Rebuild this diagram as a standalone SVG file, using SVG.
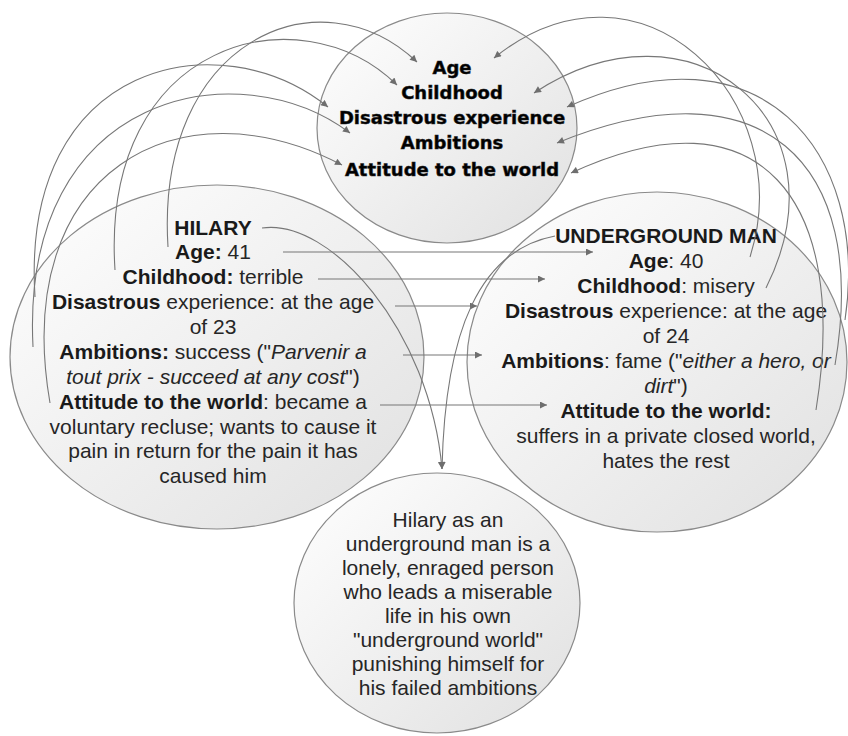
<svg xmlns="http://www.w3.org/2000/svg" width="848" height="736" viewBox="0 0 848 736">
<defs>
<linearGradient id="g" x1="0" y1="0" x2="1" y2="1">
<stop offset="0" stop-color="#ffffff"/>
<stop offset="1" stop-color="#e0e0e0"/>
</linearGradient>
<marker id="ah" viewBox="0 0 10 10" refX="10" refY="5" markerUnits="userSpaceOnUse" markerWidth="9" markerHeight="7" orient="auto">
<path d="M0,0 L10,5 L0,10 z" fill="#6e6e6e"/>
</marker>
<style>
.node ellipse{fill:url(#g);stroke:#8a8a8a;stroke-width:1.2}
.t{font-family:"Liberation Sans",Arial,sans-serif;font-size:21px;fill:#262626;text-anchor:middle}
.b{font-weight:bold;fill:#1a1a1a}
.i{font-style:italic}
.h{font-family:"DejaVu Sans",Verdana,sans-serif;font-size:18px;font-weight:bold;fill:#000;stroke:#222;stroke-width:0.5;text-anchor:middle}
.c path,.c line{fill:none;stroke:#777;stroke-width:1.1;marker-end:url(#ah)}
</style>
</defs>
<rect width="848" height="736" fill="#ffffff"/>

<g id="node-aspects" class="node">
<ellipse cx="447" cy="128" rx="130" ry="115"/>
<text class="h" x="452" y="74">Age</text>
<text class="h" x="452" y="99">Childhood</text>
<text class="h" x="452" y="124">Disastrous experience</text>
<text class="h" x="452" y="149">Ambitions</text>
<text class="h" x="452" y="176">Attitude to the world</text>
</g>

<g id="node-hilary" class="node">
<ellipse cx="217" cy="357" rx="207" ry="172"/>
<text class="t" x="213" y="235"><tspan class="b">HILARY</tspan></text>
<text class="t" x="213" y="259"><tspan class="b">Age:</tspan> 41</text>
<text class="t" x="213" y="284"><tspan class="b">Childhood:</tspan> terrible</text>
<text class="t" x="213" y="309"><tspan class="b">Disastrous</tspan> experience: at the age</text>
<text class="t" x="213" y="334">of 23</text>
<text class="t" x="213" y="359"><tspan class="b">Ambitions:</tspan> success ("<tspan class="i">Parvenir a</tspan></text>
<text class="t" x="213" y="384"><tspan class="i">tout prix - succeed at any cost</tspan>")</text>
<text class="t" x="213" y="409"><tspan class="b">Attitude to the world</tspan>: became a</text>
<text class="t" x="213" y="434">voluntary recluse; wants to cause it</text>
<text class="t" x="213" y="458">pain in return for the pain it has</text>
<text class="t" x="213" y="483">caused him</text>
</g>

<g id="node-underground" class="node">
<ellipse cx="657" cy="362" rx="190" ry="170"/>
<text class="t" x="666" y="243"><tspan class="b">UNDERGROUND MAN</tspan></text>
<text class="t" x="666" y="268"><tspan class="b">Age</tspan>: 40</text>
<text class="t" x="666" y="293"><tspan class="b">Childhood</tspan>: misery</text>
<text class="t" x="666" y="318"><tspan class="b">Disastrous</tspan> experience: at the age</text>
<text class="t" x="666" y="343">of 24</text>
<text class="t" x="666" y="368"><tspan class="b">Ambitions</tspan>: fame ("<tspan class="i">either a hero, or</tspan></text>
<text class="t" x="666" y="393"><tspan class="i">dirt</tspan>")</text>
<text class="t" x="666" y="418"><tspan class="b">Attitude to the world:</tspan></text>
<text class="t" x="666" y="443">suffers in a private closed world,</text>
<text class="t" x="666" y="468">hates the rest</text>
</g>

<g id="node-conclusion" class="node">
<ellipse cx="437" cy="603" rx="143" ry="130"/>
<text class="t" x="448" y="527">Hilary as an</text>
<text class="t" x="448" y="551">underground man is a</text>
<text class="t" x="448" y="575">lonely, enraged person</text>
<text class="t" x="448" y="599">who leads a miserable</text>
<text class="t" x="448" y="623">life in his own</text>
<text class="t" x="448" y="647">"underground world"</text>
<text class="t" x="448" y="671">punishing himself for</text>
<text class="t" x="448" y="695">his failed ambitions</text>
</g>

<g id="connectors" class="c">
<line x1="283" y1="252" x2="593" y2="252"/>
<line x1="318" y1="279" x2="545" y2="279"/>
<line x1="395" y1="306" x2="477" y2="306"/>
<line x1="403" y1="355" x2="482" y2="355"/>
<line x1="380" y1="405" x2="547" y2="405"/>
<path d="M262,228 C330,218 430,330 442,469"/>
<path d="M555,236 C480,250 445,330 442,469"/>
<path d="M168,247 C155,40 320,-30 417,62"/>
<path d="M115,270 C100,40 300,-10 397,85"/>
<path d="M35,297 C20,60 220,20 328,107"/>
<path d="M33,347 C20,90 240,50 350,133"/>
<path d="M50,403 C10,170 180,80 342,165"/>
<path d="M750,257 C800,100 640,-60 494,58"/>
<path d="M766,288 C850,120 690,-10 534,93"/>
<path d="M845,320 C870,150 760,20 567,107"/>
<path d="M835,365 C870,160 760,60 557,143"/>
<path d="M816,410 C850,200 760,85 571,173"/>
</g>
</svg>
